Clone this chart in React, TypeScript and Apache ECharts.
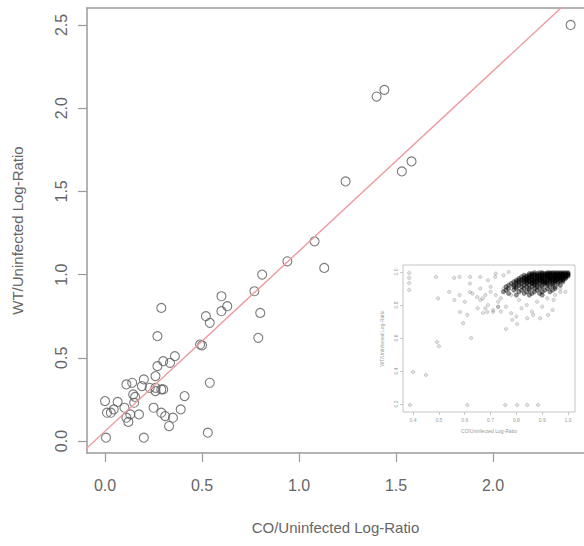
import React, { useEffect, useRef } from "react";
import * as echarts from "echarts";

// Main scatter: [CO/Uninfected, WT/Uninfected] log-ratios
const mainPoints: [number, number][] = [
  [2.4, 2.5], [1.4, 2.07], [1.44, 2.11], [1.24, 1.56], [1.53, 1.62], [1.58, 1.68],
  [1.08, 1.2], [0.94, 1.08], [1.13, 1.04], [0.81, 1.0], [0.77, 0.9], [0.8, 0.77],
  [0.79, 0.62], [0.6, 0.87], [0.63, 0.81], [0.6, 0.78], [0.52, 0.75], [0.54, 0.71],
  [0.49, 0.58], [0.5, 0.575], [0.54, 0.35], [0.53, 0.05], [0.41, 0.27], [0.29, 0.8],
  [0.27, 0.63], [0.36, 0.51], [0.3, 0.48], [0.335, 0.47], [0.27, 0.45], [0.26, 0.39],
  [0.26, 0.32], [0.29, 0.31], [0.26, 0.3], [0.23, 0.32], [0.2, 0.37], [0.19, 0.33],
  [0.25, 0.2], [0.29, 0.17], [0.31, 0.15], [0.33, 0.09], [0.35, 0.14], [0.39, 0.19],
  [0.2, 0.02], [0.005, 0.02], [0.0, 0.24], [0.01, 0.17], [0.03, 0.17], [0.065, 0.235],
  [0.045, 0.19], [0.1, 0.2], [0.11, 0.14], [0.12, 0.115], [0.13, 0.16], [0.175, 0.16],
  [0.11, 0.34], [0.14, 0.35], [0.145, 0.28], [0.155, 0.265], [0.15, 0.23], [0.3, 0.31],
];

// Fitted line y = intercept + slope * x
const fitIntercept = 0.059;
const fitSlope = 1.082;
const fitLineX = [-0.2, 2.6];

const xTicks = [0, 0.5, 1, 1.5, 2];
const yTicks = [0, 0.5, 1, 1.5, 2, 2.5];

// Inset scatter
const insetXTicks = [0.4, 0.5, 0.6, 0.7, 0.8, 0.9, 1.0];
const insetYTicks = [0.2, 0.4, 0.6, 0.8, 1.0];

const insetSparse: [number, number][] = [
  [0.385, 0.994], [0.385, 0.964], [0.385, 0.933], [0.385, 0.891],
  [0.489, 0.97], [0.497, 0.84], [0.493, 0.576], [0.5, 0.55],
  [0.4, 0.394], [0.45, 0.376],
  [0.388, 0.194], [0.61, 0.194], [0.757, 0.194], [0.803, 0.194], [0.842, 0.194], [0.884, 0.194],
  [0.559, 0.964], [0.621, 0.97], [0.66, 0.97], [0.582, 0.758], [0.594, 0.69], [0.61, 0.74],
  [0.625, 0.6], [0.62, 0.879], [0.648, 0.848], [0.671, 0.752], [0.687, 0.758], [0.71, 0.758],
  [0.729, 0.788], [0.76, 0.655], [0.784, 0.71], [0.803, 0.685], [0.842, 0.72], [0.865, 0.74],
  [0.892, 0.72], [0.923, 0.74], [0.94, 0.77], [0.944, 0.83], [0.97, 0.879], [0.718, 0.97],
  [0.7, 0.91], [0.63, 0.87], [0.66, 0.83], [0.68, 0.86], [0.65, 0.78], [0.69, 0.8],
  [0.71, 0.77], [0.73, 0.82], [0.74, 0.76], [0.76, 0.79], [0.78, 0.75], [0.8, 0.73],
  [0.82, 0.78], [0.84, 0.8], [0.86, 0.76], [0.88, 0.82], [0.9, 0.79], [0.92, 0.84],
  [0.95, 0.86], [0.97, 0.9], [0.99, 0.88], [0.58, 0.86], [0.6, 0.82], [0.56, 0.83],
  [0.54, 0.88], [0.62, 0.93], [0.58, 0.97], [0.72, 0.99], [0.75, 0.98], [0.69, 0.95],
  [0.77, 1.0], [0.67, 0.84], [0.72, 0.86], [0.74, 0.84], [0.7, 0.88], [0.66, 0.9],
  [0.75, 0.9], [0.78, 0.86], [0.81, 0.83], [0.68, 0.78], [0.73, 0.79],
];

// Dense cloud rows: [y, xs...]
const insetCloudRows: [number, number[]][] = [
  [0.995, [0.87, 0.89, 0.9, 0.92, 0.93, 0.94, 0.95, 0.96, 0.97, 0.98, 0.99, 1.0]],
  [0.99, [0.85, 0.86, 0.88, 0.9, 0.91, 0.92, 0.93, 0.94, 0.95, 0.96, 0.97, 0.98, 0.99, 1.0]],
  [0.985, [0.86, 0.87, 0.89, 0.91, 0.92, 0.93, 0.94, 0.95, 0.96, 0.97, 0.98, 0.99, 1.0]],
  [0.98, [0.83, 0.85, 0.87, 0.88, 0.89, 0.9, 0.92, 0.93, 0.95, 0.96, 0.97, 0.98, 0.99, 1.0]],
  [0.975, [0.84, 0.86, 0.88, 0.9, 0.91, 0.92, 0.94, 0.95, 0.96, 0.97, 0.98, 0.99, 1.0]],
  [0.97, [0.82, 0.84, 0.85, 0.86, 0.88, 0.89, 0.91, 0.92, 0.93, 0.94, 0.95, 0.96, 0.97, 0.98, 0.99]],
  [0.965, [0.83, 0.85, 0.87, 0.89, 0.9, 0.92, 0.93, 0.94, 0.95, 0.96, 0.97, 0.98, 0.99]],
  [0.96, [0.81, 0.83, 0.84, 0.85, 0.87, 0.88, 0.9, 0.91, 0.93, 0.94, 0.96, 0.97, 0.99]],
  [0.955, [0.82, 0.84, 0.86, 0.88, 0.89, 0.9, 0.92, 0.93, 0.95, 0.96, 0.98]],
  [0.95, [0.8, 0.81, 0.83, 0.84, 0.86, 0.87, 0.89, 0.9, 0.92, 0.94, 0.95, 0.97, 0.98]],
  [0.945, [0.82, 0.84, 0.85, 0.87, 0.88, 0.9, 0.91, 0.93, 0.95, 0.97]],
  [0.94, [0.79, 0.8, 0.83, 0.85, 0.86, 0.88, 0.9, 0.91, 0.93, 0.95, 0.96, 0.98]],
  [0.935, [0.81, 0.84, 0.86, 0.87, 0.89, 0.91, 0.92, 0.94]],
  [0.93, [0.78, 0.8, 0.82, 0.84, 0.86, 0.87, 0.89, 0.91, 0.92, 0.94, 0.96]],
  [0.92, [0.77, 0.79, 0.81, 0.83, 0.85, 0.87, 0.88, 0.9, 0.92, 0.94, 0.97]],
  [0.91, [0.76, 0.79, 0.8, 0.82, 0.84, 0.86, 0.88, 0.9, 0.93, 0.95]],
  [0.9, [0.77, 0.8, 0.83, 0.85, 0.87, 0.89, 0.92, 0.95]],
  [0.89, [0.76, 0.79, 0.82, 0.85, 0.88, 0.91, 0.94]],
  [0.88, [0.75, 0.81, 0.84, 0.87, 0.9, 0.93]],
  [0.87, [0.77, 0.83, 0.86, 0.89]],
  [0.86, [0.8, 0.85, 0.9]],
];

const FONT = "'Liberation Sans', Arial, sans-serif";
const AXIS_GRAY = "#9a9a9a";
const TEXT_GRAY = "#666";

export default function App() {
  const ref = useRef<HTMLDivElement>(null);

  useEffect(() => {
    document.body.style.margin = "0";
    if (!ref.current) return;
    const chart = echarts.init(ref.current, undefined, { renderer: "svg" });

    const cloudData: [number, number][] = [];
    insetCloudRows.forEach(([y, xs]) => xs.forEach((x) => cloudData.push([x, y])));

    const fitData = fitLineX.map((x) => [x, fitIntercept + fitSlope * x]);

    chart.setOption({
      animation: false,
      backgroundColor: "#fff",
      grid: [
        { left: 87, top: 8, right: 0, height: 445, show: false },
        {
          left: 403, top: 265, width: 172, height: 147, show: true,
          backgroundColor: "#fff", borderColor: "#c4c4c4", borderWidth: 1, z: 5,
        },
      ],
      xAxis: [
        {
          type: "value", gridIndex: 0, min: -0.093, max: 2.469, position: "bottom",
          axisLine: { show: true, onZero: false, lineStyle: { color: AXIS_GRAY, width: 1.5 } },
          axisTick: { show: true, customValues: xTicks, length: 9, lineStyle: { color: AXIS_GRAY, width: 1.2 } },
          axisLabel: {
            customValues: xTicks, formatter: (v: number) => v.toFixed(1),
            margin: 24, fontSize: 16, color: TEXT_GRAY, fontFamily: FONT,
          },
          splitLine: { show: false },
          name: "CO/Uninfected Log-Ratio", nameLocation: "middle", nameGap: 67,
          nameTextStyle: { fontSize: 15, color: TEXT_GRAY, fontFamily: FONT },
        },
        {
          type: "value", gridIndex: 0, min: -0.093, max: 2.469, position: "top",
          axisLine: { show: true, onZero: false, lineStyle: { color: AXIS_GRAY, width: 1.5 } },
          axisTick: { show: false }, axisLabel: { show: false }, splitLine: { show: false },
        },
        {
          type: "value", gridIndex: 1, min: 0.361, max: 1.027,
          axisLine: { show: false },
          axisTick: { show: true, customValues: insetXTicks, length: 3, lineStyle: { color: "#bbb", width: 0.8 } },
          axisLabel: {
            customValues: insetXTicks, formatter: (v: number) => v.toFixed(1),
            margin: 5, fontSize: 5, color: "#999", fontFamily: FONT,
          },
          splitLine: { show: false },
          name: "CO/Uninfected Log-Ratio", nameLocation: "middle", nameGap: 16,
          nameTextStyle: { fontSize: 5, color: "#999", fontFamily: FONT },
        },
      ],
      yAxis: [
        {
          type: "value", gridIndex: 0, min: -0.072, max: 2.602,
          axisLine: { show: true, onZero: false, lineStyle: { color: AXIS_GRAY, width: 1.5 } },
          axisTick: { show: true, customValues: yTicks, length: 9, lineStyle: { color: AXIS_GRAY, width: 1.2 } },
          axisLabel: {
            customValues: yTicks, formatter: (v: number) => v.toFixed(1), rotate: 90,
            margin: 18, fontSize: 16, color: TEXT_GRAY, fontFamily: FONT,
          },
          splitLine: { show: false },
          name: "WT/Uninfected Log-Ratio", nameLocation: "middle", nameGap: 62,
          nameTextStyle: { fontSize: 15, color: TEXT_GRAY, fontFamily: FONT },
        },
        {
          type: "value", gridIndex: 1, min: 0.152, max: 1.042,
          axisLine: { show: false },
          axisTick: { show: true, customValues: insetYTicks, length: 3, lineStyle: { color: "#bbb", width: 0.8 } },
          axisLabel: {
            customValues: insetYTicks, formatter: (v: number) => v.toFixed(1), rotate: 90,
            margin: 5, fontSize: 5, color: "#999", fontFamily: FONT,
          },
          splitLine: { show: false },
          name: "WT/Uninfected Log-Ratio", nameLocation: "middle", nameGap: 19,
          nameTextStyle: { fontSize: 5, color: "#999", fontFamily: FONT },
        },
      ],
      series: [
        {
          type: "scatter", xAxisIndex: 0, yAxisIndex: 0, data: mainPoints,
          symbol: "circle", symbolSize: 9,
          itemStyle: { color: "rgba(0,0,0,0)", borderColor: "#5a5a5a", borderWidth: 1.1 },
          silent: true, z: 2,
        },
        {
          type: "line", xAxisIndex: 0, yAxisIndex: 0, data: fitData,
          showSymbol: false, clip: true,
          lineStyle: { color: "#ec9ba0", width: 1.4 },
          silent: true, z: 3,
        },
        {
          type: "scatter", xAxisIndex: 2, yAxisIndex: 1, data: insetSparse,
          symbol: "circle", symbolSize: 3.5,
          itemStyle: { color: "rgba(0,0,0,0.15)", borderColor: "rgba(0,0,0,0.4)", borderWidth: 0.4 },
          silent: true, z: 6,
        },
        {
          type: "scatter", xAxisIndex: 2, yAxisIndex: 1, data: cloudData,
          symbol: "circle", symbolSize: 4.5,
          itemStyle: { color: "rgba(0,0,0,0.55)", borderColor: "rgba(0,0,0,0.6)", borderWidth: 0.4 },
          silent: true, z: 6,
        },
      ],
    });

    return () => chart.dispose();
  }, []);

  return <div ref={ref} style={{ width: 584, height: 546 }} />;
}
